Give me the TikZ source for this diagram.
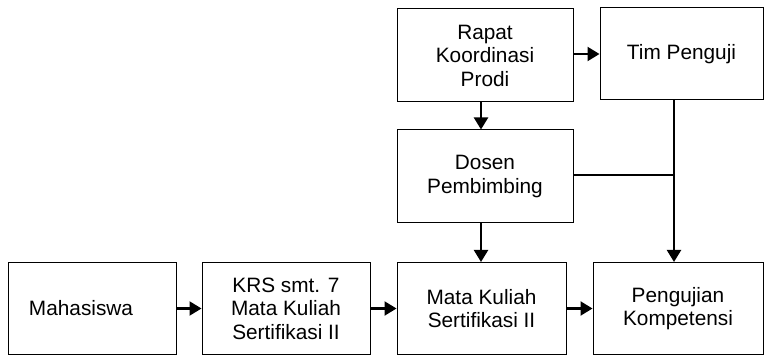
\documentclass[tikz,border=0pt]{standalone}
\usepackage{fontspec}
\setmainfont{Liberation Sans}
\usetikzlibrary{positioning,calc,arrows.meta}
\tikzset{>={Triangle[length=12pt,width=14pt]}}

\begin{document}
\begin{tikzpicture}[
    x=1pt, y=-1pt,
    box/.style={rectangle, draw, line width=1pt, align=center,
        minimum width=168pt, minimum height=92pt, inner sep=2pt,
        font=\fontsize{20.8}{23.5}\selectfont},
    flow/.style={->, line width=2.2pt}
]
\useasboundingbox (0,0) rectangle (768,355);

\node[box] (mhs) at (92,308.5) {Mahasiswa\hspace*{22pt}};
\node[box] (krs) at (286,308.5) {KRS smt. 7\\Mata Kuliah\\Sertifikasi II};
\node[box, minimum width=169pt] (mk) at (481.5,308.5) {Mata Kuliah\\Sertifikasi II};
\node[box, minimum width=170pt] (uji) at (678,308.5) {Pengujian\\Kompetensi};
\node[box, minimum width=176pt, minimum height=93pt] (rapat) at (485,55.5) {Rapat\\Koordinasi\\Prodi};
\node[box, minimum width=163pt] (tim) at (681.5,54) {Tim Penguji};
\node[box, minimum width=176pt, minimum height=93pt] (dosen) at (485,176.5) {Dosen\\Pembimbing};

\coordinate (j) at (674,175);

\draw[flow] (mhs) -- (krs);
\draw[flow] (krs) -- (mk);
\draw[flow] (mk) -- (uji);
\draw[flow] (rapat.east |- tim.west) -- (tim.west);
\draw[flow] ([xshift=-4pt]rapat.south) -- ([xshift=-4pt]dosen.north);
\draw[flow] ([xshift=-4pt]dosen.south) -- ([xshift=-4pt]dosen.south |- mk.north);
\draw[line width=1.5pt] (dosen.east |- j) -- (j);
\draw[flow] (tim.south -| j) -- (uji.north -| j);
\end{tikzpicture}
\end{document}
